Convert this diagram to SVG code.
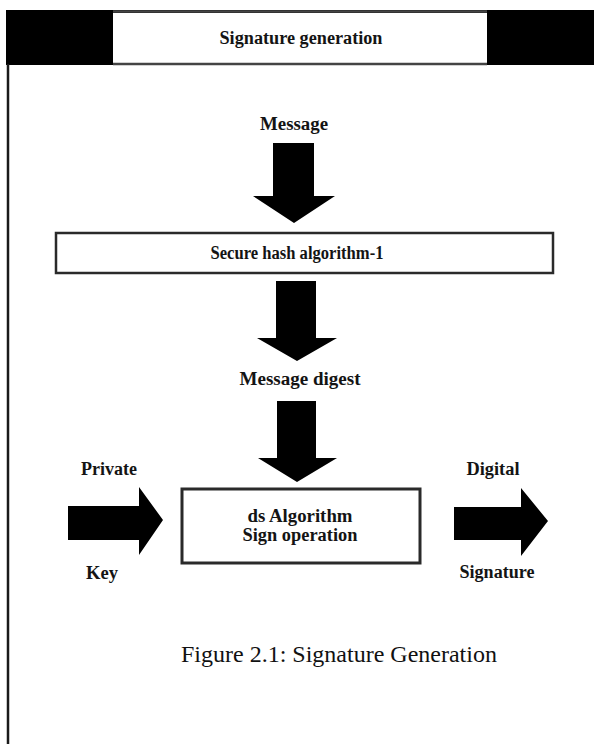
<svg xmlns="http://www.w3.org/2000/svg" width="594" height="744" viewBox="0 0 594 744">
  <style>
    .lbl { font-family: "Liberation Serif", "Times New Roman", serif; font-weight: bold; font-size: 18px; fill: #141414; text-anchor: middle; }
    .cap { font-family: "Liberation Serif", "Times New Roman", serif; font-size: 24px; fill: #111; }
    .box { fill: #fff; stroke: #2a2a2a; }
    .arrow { fill: #000; stroke: none; }
  </style>
  <rect x="0" y="0" width="594" height="744" fill="#fff"/>

  <g id="frame">
    <rect x="6" y="10" width="588" height="55" fill="#000"/>
    <line x1="8" y1="64" x2="8" y2="744" stroke="#1a1a1a" stroke-width="2.5"/>
  </g>

  <g id="title">
    <rect x="113" y="13" width="374" height="50" fill="#fff"/>
    <line x1="113" y1="11.5" x2="487" y2="11.5" stroke="#444" stroke-width="2.5"/>
    <line x1="113" y1="64" x2="487" y2="64" stroke="#444" stroke-width="2.5"/>
    <text class="lbl" x="301" y="44" font-size="17" textLength="163" lengthAdjust="spacingAndGlyphs">Signature generation</text>
  </g>

  <g id="message">
    <text class="lbl" x="294" y="130" textLength="68" lengthAdjust="spacingAndGlyphs">Message</text>
  </g>

  <g id="sha1">
    <rect class="box" x="56" y="233" width="497" height="40" stroke-width="2.5"/>
    <text class="lbl" x="297" y="259" textLength="173" lengthAdjust="spacingAndGlyphs">Secure hash algorithm-1</text>
  </g>

  <g id="digest">
    <text class="lbl" x="300" y="385" textLength="121" lengthAdjust="spacingAndGlyphs">Message digest</text>
  </g>

  <g id="private-key">
    <text class="lbl" x="109" y="475" textLength="56" lengthAdjust="spacingAndGlyphs">Private</text>
    <text class="lbl" x="102" y="579" textLength="32" lengthAdjust="spacingAndGlyphs">Key</text>
  </g>

  <g id="ds-algorithm">
    <rect class="box" x="182" y="489" width="238" height="74" stroke-width="3"/>
    <text class="lbl" x="300" y="522" textLength="105" lengthAdjust="spacingAndGlyphs">ds Algorithm</text>
    <text class="lbl" x="300" y="541" textLength="115" lengthAdjust="spacingAndGlyphs">Sign operation</text>
  </g>

  <g id="digital-signature">
    <text class="lbl" x="493" y="475" textLength="53" lengthAdjust="spacingAndGlyphs">Digital</text>
    <text class="lbl" x="497" y="578" textLength="75" lengthAdjust="spacingAndGlyphs">Signature</text>
  </g>

  <g id="connectors">
    <polygon class="arrow" points="273,143 314,143 314,196 335,196 294,223 253,196 273,196"/>
    <polygon class="arrow" points="276,281 316,281 316,338 337,338 297,361 257,338 276,338"/>
    <polygon class="arrow" points="277,401 316,401 316,458 337,458 297,482 258,458 277,458"/>
    <polygon class="arrow" points="68,506 139,506 139,487 163,520 139,555 139,540 68,540"/>
    <polygon class="arrow" points="454,507 521,507 521,488 548,521 521,556 521,540 454,540"/>
  </g>

  <g id="caption">
    <text class="cap" x="181" y="662">Figure 2.1: Signature Generation</text>
  </g>
</svg>
